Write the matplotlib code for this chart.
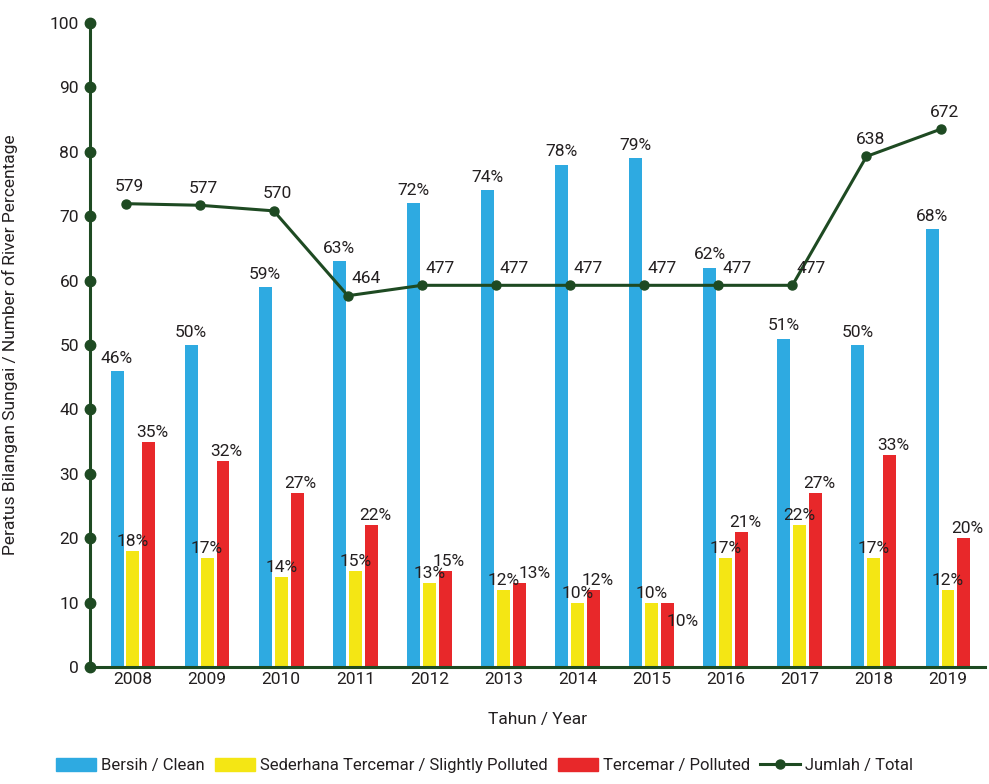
import numpy as np
import matplotlib
matplotlib.use("Agg")
import matplotlib.pyplot as plt
from matplotlib.patches import Patch
from matplotlib.lines import Line2D

plt.rcParams['font.family'] = ['Roboto', 'DejaVu Sans']

years = ['2008', '2009', '2010', '2011', '2012', '2013', '2014', '2015', '2016', '2017', '2018', '2019']
clean = [46, 50, 59, 63, 72, 74, 78, 79, 62, 51, 50, 68]
slightly = [18, 17, 14, 15, 13, 12, 10, 10, 17, 22, 17, 12]
polluted = [35, 32, 27, 22, 15, 13, 12, 10, 21, 27, 33, 20]
total = [579, 577, 570, 464, 477, 477, 477, 477, 477, 477, 638, 672]

blue = '#2eaae1'
yellow = '#f4e614'
red = '#e8282a'
green = '#1e4a22'
txt = '#231f20'
fs = 12.5

fig = plt.figure(figsize=(9.89, 7.84), dpi=100)
ax = fig.add_axes([0.091, 0.149, 0.905, 0.822])

x = np.arange(len(years))
w = 0.175
off = 0.215
ax.bar(x - off, clean, w, color=blue)
ax.bar(x, slightly, w, color=yellow)
ax.bar(x + off, polluted, w, color=red)

for i in range(len(years)):
    ax.text(x[i] - off, clean[i] + 0.8, f'{clean[i]}%', ha='center', va='bottom', fontsize=fs, color=txt)
    ax.text(x[i], slightly[i] + 0.3, f'{slightly[i]}%', ha='center', va='bottom', fontsize=fs, color=txt)
    # red labels get pushed aside when they would sit on the yellow one
    dx, dy = 0.05, 0.3
    if polluted[i] - slightly[i] < 2:
        dx = 0.2
        if polluted[i] <= slightly[i]:
            dy = -4
    ax.text(x[i] + off + dx, polluted[i] + dy, f'{polluted[i]}%', ha='center', va='bottom', fontsize=fs, color=txt)

ax.set_xlim(-0.58, 11.5)
ax.set_ylim(0, 100)
ax.set_yticks(np.arange(0, 101, 10))
ax.set_xticks(x)
ax.set_xticklabels(years)
ax.tick_params(axis='both', length=0, labelsize=fs, colors=txt)
ax.tick_params(axis='y', pad=8)
for s in ['top', 'right']:
    ax.spines[s].set_visible(False)
for s in ['left', 'bottom']:
    ax.spines[s].set_color(green)
    ax.spines[s].set_linewidth(2.2)

# dots on y axis
ax.plot(np.full(11, -0.58), np.arange(0, 101, 10), 'o', color=green, ms=7.5, clip_on=False, zorder=5)

ax.set_xlabel('Tahun / Year', fontsize=fs, color=txt, labelpad=18)
ax.set_ylabel('Peratus Bilangan Sungai / Number of River Percentage', fontsize=fs, color=txt)
ax.yaxis.set_label_coords(-0.08, 0.5)

# total line on hidden secondary scale
ax2 = ax.twinx()
ax2.set_ylim(0, 805)
ax2.axis('off')
ax2.plot(x - 0.1, total, '-o', color=green, lw=2.2, ms=6.5)
for i in range(len(years)):
    ax2.text(x[i] - 0.1 + 0.05, total[i] + 12, str(total[i]), ha='left' if total[i] < 500 else 'center',
             va='bottom', fontsize=fs, color=txt)

handles = [Patch(color=blue), Patch(color=yellow), Patch(color=red),
           Line2D([0], [0], color=green, lw=2.2, marker='o', ms=6.5)]
labels = ['Bersih / Clean', 'Sederhana Tercemar / Slightly Polluted', 'Tercemar / Polluted', 'Jumlah / Total']
fig.legend(handles, labels, loc='lower center', bbox_to_anchor=(0.49, -0.005), ncol=4, frameon=False,
           fontsize=12, handlelength=2.4, handleheight=0.8, handletextpad=0.3, columnspacing=0.6,
           labelcolor=txt)

fig.savefig('out.png', dpi=100)
